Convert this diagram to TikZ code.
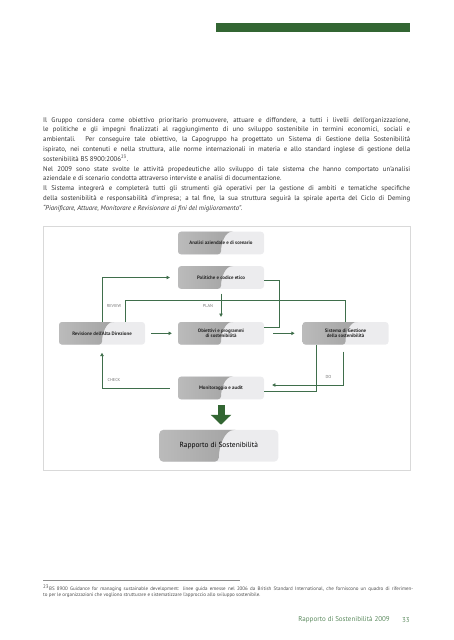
\documentclass[tikz,border=0pt]{standalone}
\usepackage{fontspec}
\setmainfont{PT Sans}
\usetikzlibrary{arrows.meta,calc}
\definecolor{deepgreen}{HTML}{336633}
\definecolor{flowgreen}{HTML}{3F6E4B}
\definecolor{boxlight}{HTML}{ECECEE}
\definecolor{boxdark}{HTML}{959595}
\definecolor{boxmid}{HTML}{BBBBBB}
\definecolor{bodygray}{HTML}{333333}
\definecolor{footgreen}{HTML}{5B8A5E}
\tikzset{
        pdca/.style={rounded corners=3pt, fill=boxlight, minimum width=86pt, minimum height=22.6pt,
          inner sep=1pt, align=center, text=black!85, font=\fontsize{4.9}{5.8}\selectfont\bfseries,
          path picture={\fill[left color=boxmid, right color=boxdark]
            (path picture bounding box.south west) -- (path picture bounding box.north west)
            -- ($(path picture bounding box.north west)!0.66!(path picture bounding box.north east)$)
            .. controls ($(path picture bounding box.north west)!0.55!(path picture bounding box.north east)$)
            and ($(path picture bounding box.south west)!0.5!(path picture bounding box.north east)$)
            .. ($(path picture bounding box.south west)!0.5!(path picture bounding box.south east)$) -- cycle;}},
        report/.style={pdca, minimum width=119pt, minimum height=31.7pt, rounded corners=4pt,
          text=black, font=\fontsize{7.4}{8}\selectfont},
        flow/.style={draw=flowgreen, line width=0.7pt},
        tip/.style={-{Triangle[length=3.2pt,width=3.4pt]}},
        bigflow/.style={draw=deepgreen, line width=7pt, -{Triangle[length=10pt,width=20pt]}},
        phase/.style={font=\fontsize{4.3}{5}\selectfont, text=black!55, inner sep=0pt},
        intro/.style={anchor=north west, inner sep=0pt, text width=367pt, align=justify,
          font=\fontsize{6.8}{9.8}\selectfont, text=bodygray},
        fnote/.style={anchor=north west, inner sep=0pt, text width=370pt, align=justify,
          font=\fontsize{5}{6.3}\selectfont, text=black!70},
        foot/.style={anchor=east, inner sep=0pt, font=\fontsize{7}{8}\selectfont, text=footgreen}
          }
\begin{document}
\begin{tikzpicture}[x=1pt, y=-1pt]
        \useasboundingbox (0,0) rectangle (453,640);
        % page head
        \fill[deepgreen] (216,23) rectangle (410,32);
        \node[intro] (intro) at (43,117) {Il Gruppo considera come obiettivo prioritario promuovere, attuare e diffondere, a tutti i livelli dell’organizzazione,\linebreak
          le politiche e gli impegni finalizzati al raggiungimento di uno sviluppo sostenibile in termini economici, sociali e\linebreak
          ambientali. Per conseguire tale obiettivo, la Capogruppo ha progettato un Sistema di Gestione della Sostenibilità\linebreak
          ispirato, nei contenuti e nella struttura, alle norme internazionali in materia e allo standard inglese di gestione della\linebreak
          sostenibilità BS 8900:2006\textsuperscript{23}.\\
          Nel 2009 sono state svolte le attività propedeutiche allo sviluppo di tale sistema che hanno comportato un’analisi\linebreak
          aziendale e di scenario condotta attraverso interviste e analisi di documentazione.\\
          Il Sistema integrerà e completerà tutti gli strumenti già operativi per la gestione di ambiti e tematiche specifiche\linebreak
          della sostenibilità e responsabilità d’impresa; a tal fine, la sua struttura seguirà la spirale aperta del Ciclo di Deming\linebreak
          \textit{“Pianificare, Attuare, Monitorare e Revisionare ai fini del miglioramento”}.};
        % diagram frame
        \draw[black!15, line width=0.6pt] (43,226) rectangle (410,470.7);
        \node[pdca] (ana) at (221,243) {Analisi aziendale e di scenario};
        \node[pdca] (pol) at (221,277.5) {Politiche e codice etico};
        \node[pdca] (rev) at (102,333.3) {Revisione dell’Alta Direzione};
        \node[pdca] (obi) at (221,333.3) {Obiettivi e programmi\\di sostenibilità};
        \node[pdca] (sis) at (345.5,333.3) {Sistema di Gestione\\della sostenibilità};
        \node[pdca] (mon) at (221,388) {Monitoraggio e audit};
        \node[report] (rap) at (218.8,445.8) {Rapporto di Sostenibilità};
        \node[phase] (review) at (114,306) {REVIEW};
        \node[phase] (plan) at (208,306) {PLAN};
        \node[phase] (check) at (114,380) {CHECK};
        \node[phase] (do) at (328.5,377) {DO};
        \coordinate (revbar) at (0,300);
        \coordinate (polturn) at (279,327.3);
        \coordinate (doin) at (316,391.7);
        \coordinate (doout) at (343.3,385);
        % connectors
        \draw[flow, tip, shorten >=8pt] (rev.north) |- (pol.west);
        \draw[flow] ([xshift=23pt]rev.north) -- ([xshift=23pt]rev.north |- revbar) -| (sis.north);
        \draw[flow, tip, shorten <=4.7pt, shorten >=5pt] (pol) -- (obi);
        \draw[flow] ([yshift=-2.5pt]pol.east) -| (polturn) -- (obi.east |- polturn);
        \draw[flow, tip, shorten <=6pt, shorten >=6pt] (rev) -- (obi);
        \draw[flow, tip, shorten <=9pt, shorten >=7.7pt] (obi) -- (sis);
        \draw[flow] (sis.south -| doin) -- (doin) -- (mon.east |- doin);
        \draw[flow, tip, shorten >=8pt] ([yshift=-6.7pt]sis.south -| doout) |- (mon.east |- doout);
        \draw[flow, tip, shorten >=8pt] ([xshift=-8pt]mon.west) -| (rev.south);
        \draw[bigflow, shorten <=5.7pt, shorten >=5pt] (mon.south) -- (mon.south |- rap.north);
        % footnote and folio
        \draw[black!45, line width=0.5pt] (43,580.7) -- (240,580.7);
        \node[fnote] (fnote) at (43,584.5) {\textsuperscript{23}BS 8900 Guidance for managing sustainable development: linee guida emesse nel 2006 da British Standard International, che forniscono un quadro di riferimen-\linebreak
          to per le organizzazioni che vogliono strutturare e sistematizzare l’approccio allo sviluppo sostenibile.};
        \node[foot] (folio) at (390,620) {Rapporto di Sostenibilità 2009};
        \node[foot] (pageno) at (410,620) {33};
\end{tikzpicture}
\end{document}
